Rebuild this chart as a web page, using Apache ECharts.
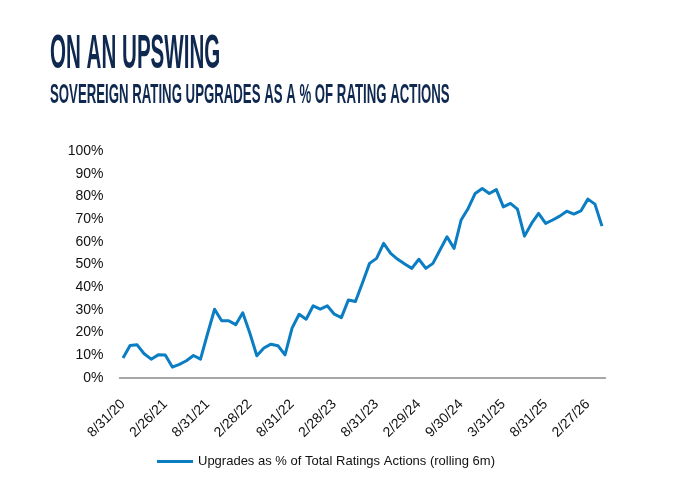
<!DOCTYPE html>
<html>
<head>
<meta charset="utf-8">
<script src="https://cdn.jsdelivr.net/npm/echarts@6/dist/echarts.min.js"></script>
<style>
  html, body { margin: 0; padding: 0; background: #fff; }
  #chart { width: 694px; height: 497px; }
</style>
</head>
<body>
<div id="chart"></div>
<script>
// 月末日期（每6个显示一个）
var dates = [
    '8/31/20', '9/30/20', '10/30/20', '11/30/20', '12/31/20', '1/29/21',
    '2/26/21', '3/31/21', '4/30/21', '5/31/21', '6/30/21', '7/30/21',
    '8/31/21', '9/30/21', '10/29/21', '11/30/21', '12/31/21', '1/31/22',
    '2/28/22', '3/31/22', '4/29/22', '5/31/22', '6/30/22', '7/29/22',
    '8/31/22', '9/30/22', '10/31/22', '11/30/22', '12/30/22', '1/31/23',
    '2/28/23', '3/31/23', '4/28/23', '5/31/23', '6/30/23', '7/31/23',
    '8/31/23', '9/29/23', '10/31/23', '11/30/23', '12/29/23', '1/31/24',
    '2/29/24', '3/28/24', '4/30/24', '5/31/24', '6/28/24', '7/31/24',
    '9/30/24', '10/31/24', '11/29/24', '12/31/24', '1/31/25', '2/28/25',
    '3/31/25', '4/30/25', '5/30/25', '6/30/25', '7/31/25', '8/15/25',
    '8/31/25', '9/30/25', '10/31/25', '11/28/25', '12/31/25', '1/30/26',
    '2/27/26', '3/31/26', '4/30/26'
];

// 上调占比（%）
var upgradePct = [
    8.8, 14.3, 14.6, 10.7, 8.3, 10.2, 10.1, 4.8, 6.0, 7.6, 9.9, 8.3,
    19.5, 30.3, 25.2, 25.2, 23.5, 28.7, 19.8, 9.8, 13.2, 14.9, 14.2, 10.2,
    22.0, 28.1, 25.9, 31.8, 30.3, 31.8, 28.1, 26.6, 34.4, 33.7, 42.0, 50.5,
    52.7, 59.3, 54.9, 52.3, 50.2, 48.3, 52.3, 48.3, 50.5, 56.4, 62.2, 57.1,
    69.6, 74.7, 81.3, 83.5, 81.3, 83.0, 75.4, 76.9, 74.4, 62.5, 68.1, 72.5,
    68.1, 69.6, 71.3, 73.5, 72.2, 73.6, 78.8, 76.6, 66.9
];

var seriesName = 'Upgrades as % of Total Ratings Actions (rolling 6m)';
var titleText = 'ON AN UPSWING';
var subTitleText = 'SOVEREIGN RATING UPGRADES AS A % OF RATING ACTIONS';

var navy = '#0e2850';
var lineBlue = '#0b7dc3';
var narrow = '"Liberation Sans Narrow", "Liberation Sans", sans-serif';

var chart = echarts.init(document.getElementById('chart'));

var option = {
    animation: false,
    backgroundColor: '#fff',
    // 标题用压扁的粗体字模拟窄字体
    graphic: [
        {
            type: 'text',
            x: 50, y: 30,
            scaleX: 0.42,
            style: {
                text: titleText,
                fill: navy,
                font: 'bold 49px ' + narrow,
                verticalAlign: 'top'
            }
        },
        {
            type: 'text',
            x: 50, y: 81,
            scaleX: 0.472,
            style: {
                text: subTitleText,
                fill: navy,
                font: 'bold 28px ' + narrow,
                verticalAlign: 'top'
            }
        }
    ],
    legend: {
        left: 152,
        top: 450,
        itemWidth: 36,
        itemHeight: 3,
        itemGap: 6,
        icon: 'rect',
        textStyle: {
            fontFamily: narrow,
            fontSize: 13,
            color: '#111'
        },
        data: [seriesName]
    },
    grid: {
        left: 119.5,
        right: 88.5,
        top: 151,
        bottom: 119,
        containLabel: false
    },
    xAxis: {
        type: 'category',
        boundaryGap: true,
        data: dates,
        axisLine: { lineStyle: { color: '#8a8a8a', width: 1.5 } },
        axisTick: { show: false },
        axisLabel: {
            interval: 5,
            rotate: 45,
            margin: 24,
            fontFamily: narrow,
            fontSize: 14,
            color: '#111'
        },
        splitLine: { show: false }
    },
    yAxis: {
        type: 'value',
        min: 0,
        max: 100,
        interval: 10,
        axisLine: { show: false },
        axisTick: { show: false },
        splitLine: { show: false },
        axisLabel: {
            formatter: '{value}%',
            margin: 16,
            fontFamily: narrow,
            fontSize: 14,
            color: '#111'
        }
    },
    series: [{
        name: seriesName,
        type: 'line',
        data: upgradePct,
        symbol: 'none',
        smooth: false,
        color: lineBlue,
        lineStyle: { width: 3, color: lineBlue, join: 'round' }
    }]
};

chart.setOption(option);
</script>
</body>
</html>
